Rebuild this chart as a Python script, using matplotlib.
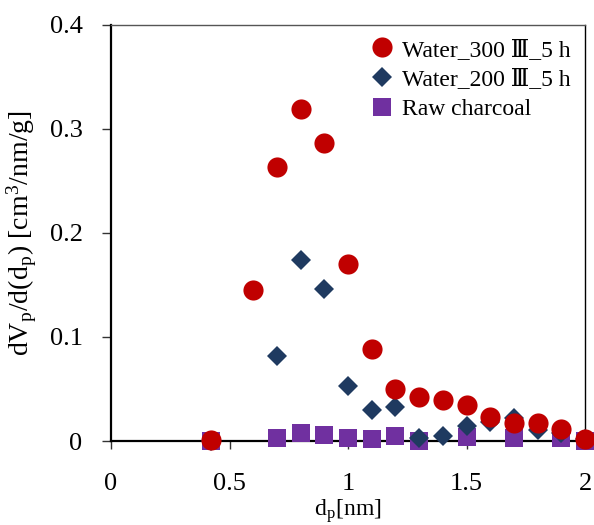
import matplotlib
matplotlib.use("Agg")
import matplotlib.pyplot as plt

# ---- data ----
x_w300 = [0.42, 0.6, 0.7, 0.8, 0.9, 1.0, 1.1, 1.2, 1.3, 1.4, 1.5, 1.6, 1.7, 1.8, 1.9, 2.0]
y_w300 = [0.001, 0.145, 0.263, 0.319, 0.287, 0.170, 0.088, 0.050, 0.042, 0.039, 0.035, 0.023, 0.017, 0.017, 0.012, 0.002]

x_w200 = [0.42, 0.7, 0.8, 0.9, 1.0, 1.1, 1.2, 1.3, 1.4, 1.5, 1.6, 1.7, 1.8, 1.9, 2.0]
y_w200 = [0.0, 0.082, 0.174, 0.146, 0.053, 0.030, 0.033, 0.003, 0.005, 0.014, 0.018, 0.022, 0.011, 0.008, 0.002]

x_raw = [0.42, 0.7, 0.8, 0.9, 1.0, 1.1, 1.2, 1.3, 1.5, 1.7, 1.9, 2.0]
y_raw = [0.0, 0.003, 0.0075, 0.006, 0.003, 0.002, 0.005, 0.0, 0.004, 0.003, 0.003, 0.0]

labels = ["Water_300 \u2162_5 h", "Water_200 \u2162_5 h", "Raw charcoal"]
xticks = [0, 0.5, 1, 1.5, 2]
xticklabels = ["0", "0.5", "1", "1.5", "2"]
yticks = [0, 0.1, 0.2, 0.3, 0.4]
yticklabels = ["0", "0.1", "0.2", "0.3", "0.4"]

plt.rcParams['font.family'] = ['Liberation Serif', 'DejaVu Serif', 'Noto Sans CJK JP']
plt.rcParams['mathtext.fontset'] = 'stix'

fig = plt.figure(figsize=(5.94, 5.25), dpi=100)
ax = fig.add_axes([111/594, 1 - 441/525, (585-111)/594, (441-25)/525])

ax.plot(x_raw, y_raw, linestyle='none', marker='s', markersize=13.5, color='#7030A0',
        markeredgewidth=0, clip_on=False, zorder=3, label=labels[2])
ax.plot(x_w200, y_w200, linestyle='none', marker='D', markersize=10.5, color='#1F3A60',
        markeredgewidth=0, clip_on=False, zorder=4, label=labels[1])
ax.plot(x_w300, y_w300, linestyle='none', marker='o', markersize=14.5, color='#C00000',
        markeredgewidth=0, clip_on=False, zorder=5, label=labels[0])

ax.set_xlim(0, 2)
ax.set_ylim(0, 0.4)
ax.set_xticks(xticks)
ax.set_xticklabels(xticklabels)
ax.set_yticks(yticks)
ax.set_yticklabels(yticklabels)

ax.tick_params(axis='x', direction='out', length=6, width=1, pad=17, labelsize=19, color='#333333')
ax.tick_params(axis='y', direction='out', length=6.5, width=1, pad=14, labelsize=19, color='#333333')

ax.spines['left'].set_linewidth(1.6)
ax.spines['bottom'].set_linewidth(1.6)
ax.spines['top'].set_linewidth(1.0)
ax.spines['top'].set_color('#555555')
ax.spines['right'].set_linewidth(1.0)
for s in ax.spines.values():
    s.set_zorder(2)

ax.set_xlabel(r'd$_\mathregular{p}$[nm]', fontsize=17)
ax.xaxis.set_label_coords(0.5, -(516 - 441) / 416)
ax.xaxis.label.set_va('baseline')
ax.set_ylabel(r'dV$_\mathregular{p}$/d(d$_\mathregular{p}$) [cm$^\mathregular{3}$/nm/g]', fontsize=20)
ax.yaxis.set_label_coords(-(111 - 22) / 474, 0.5)
ax.yaxis.label.set_va('center')

h, l = ax.get_legend_handles_labels()
order = [2, 1, 0]
leg = ax.legend([h[i] for i in order], [l[i] for i in order], loc='upper right',
                bbox_to_anchor=(1.0, 1.0), frameon=False, fontsize=17,
                handletextpad=0.25, labelspacing=0.35, borderaxespad=0.2,
                handlelength=1.2, markerscale=1.0)

fig.savefig('out.png', dpi=100)
